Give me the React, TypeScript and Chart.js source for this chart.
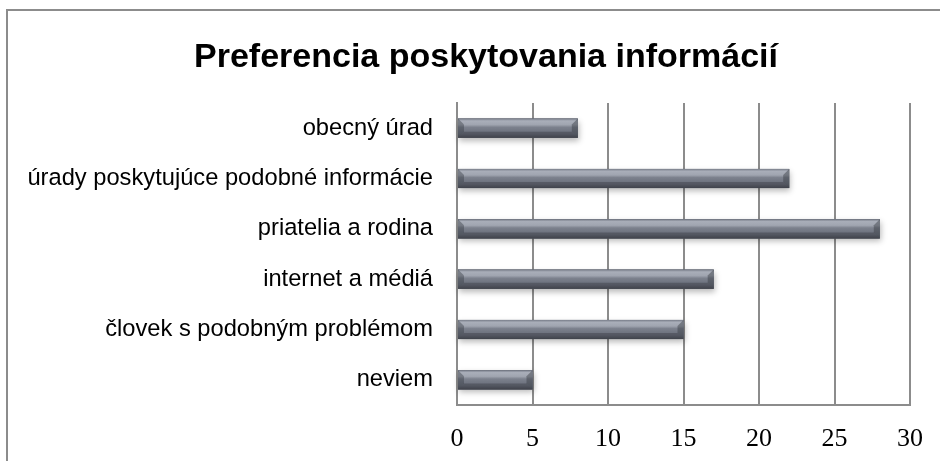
import React, { useEffect, useRef } from "react";
import { Chart, registerables } from "chart.js";

Chart.register(...registerables);

const categories = [
  "obecný úrad",
  "úrady poskytujúce podobné informácie",
  "priatelia a rodina",
  "internet a médiá",
  "človek s podobným problémom",
  "neviem",
];
const values = [8, 22, 28, 17, 15, 5];
const xTicks = [0, 5, 10, 15, 20, 25, 30];
const title = "Preferencia poskytovania informácií";

const framePlugin = {
  id: "frame",
  beforeDraw(chart: any) {
    const ctx = chart.ctx;
    ctx.save();
    ctx.fillStyle = "#ffffff";
    ctx.fillRect(0, 0, chart.width, chart.height);
    ctx.strokeStyle = "#8c8c8c";
    ctx.lineWidth = 2;
    ctx.beginPath();
    ctx.moveTo(7, chart.height + 2);
    ctx.lineTo(7, 10);
    ctx.lineTo(chart.width + 2, 10);
    ctx.stroke();
    ctx.restore();
  },
  afterDraw(chart: any) {
    const ctx = chart.ctx;
    ctx.save();
    ctx.fillStyle = "#000";
    ctx.font = "bold 34px 'Liberation Sans', Arial, sans-serif";
    ctx.textAlign = "center";
    ctx.textBaseline = "alphabetic";
    ctx.fillText(title, 486, 67);
    ctx.restore();
  },
};

const bevelPlugin = {
  id: "bevel",
  afterDatasetsDraw(chart: any) {
    const ctx = chart.ctx;
    const meta = chart.getDatasetMeta(0);
    meta.data.forEach((bar: any) => {
      const x0 = bar.base;
      const x1 = bar.x;
      const h = bar.height;
      const y0 = bar.y - h / 2;
      const y1 = bar.y + h / 2;
      const b = Math.min(6, (x1 - x0) / 3);
      ctx.save();
      ctx.shadowColor = "rgba(0,0,0,0.28)";
      ctx.shadowBlur = 6;
      ctx.shadowOffsetX = 1;
      ctx.shadowOffsetY = 3;
      ctx.fillStyle = "#5a5f6a";
      ctx.fillRect(x0, y0, x1 - x0, h);
      ctx.restore();
      ctx.save();
      const g = ctx.createLinearGradient(0, y0, 0, y1);
      g.addColorStop(0, "#767b87");
      g.addColorStop(0.12, "#a9aeb9");
      g.addColorStop(0.32, "#a0a5b0");
      g.addColorStop(0.45, "#7c818d");
      g.addColorStop(0.8, "#686d79");
      g.addColorStop(1, "#4c5059");
      ctx.fillStyle = g;
      ctx.fillRect(x0, y0, x1 - x0, h);
      ctx.fillStyle = "rgba(50,54,62,0.4)";
      ctx.beginPath();
      ctx.moveTo(x0, y0);
      ctx.lineTo(x0 + b, y0 + b);
      ctx.lineTo(x0 + b, y1 - b);
      ctx.lineTo(x0, y1);
      ctx.closePath();
      ctx.fill();
      ctx.fillStyle = "rgba(55,59,67,0.45)";
      ctx.beginPath();
      ctx.moveTo(x1, y0);
      ctx.lineTo(x1 - b, y0 + b);
      ctx.lineTo(x1 - b, y1 - b);
      ctx.lineTo(x1, y1);
      ctx.closePath();
      ctx.fill();
      ctx.fillStyle = "rgba(35,38,44,0.3)";
      ctx.beginPath();
      ctx.moveTo(x0, y1);
      ctx.lineTo(x1, y1);
      ctx.lineTo(x1 - b, y1 - b);
      ctx.lineTo(x0 + b, y1 - b);
      ctx.closePath();
      ctx.fill();
      ctx.restore();
    });
  },
};

export default function App() {
  const ref = useRef<HTMLCanvasElement | null>(null);
  useEffect(() => {
    document.body.style.margin = "0";
    document.body.style.overflow = "hidden";
    const canvas = ref.current!;
    const chart = new Chart(canvas, {
      type: "bar",
      data: {
        labels: categories,
        datasets: [
          {
            data: values,
            backgroundColor: "#6e7380",
            categoryPercentage: 1,
            barPercentage: 0.38,
          },
        ],
      },
      options: {
        indexAxis: "y",
        responsive: false,
        animation: false,
        layout: { padding: { top: 103, left: 0, right: 30, bottom: 0 } },
        plugins: {
          legend: { display: false },
          tooltip: { enabled: false },
          title: { display: false },
        },
        scales: {
          x: {
            min: 0,
            max: 30,
            afterBuildTicks(scale: any) {
              scale.ticks = xTicks.map((v) => ({ value: v }));
            },
            afterFit(scale: any) {
              scale.height = 56;
              scale.paddingLeft = 0;
              scale.paddingRight = 0;
            },
            grid: { color: "#8c8c8c", lineWidth: 2, drawTicks: false },
            border: { color: "#8c8c8c", width: 2 },
            ticks: {
              padding: 19,
              color: "#000",
              font: { family: "'Liberation Serif', 'Times New Roman', serif", size: 26 },
            },
          },
          y: {
            grid: { display: false, drawTicks: false },
            border: { color: "#8c8c8c", width: 2 },
            afterFit(scale: any) {
              scale.width = 457;
            },
            ticks: {
              padding: 24,
              color: "#000",
              font: { family: "'Liberation Sans', Arial, sans-serif", size: 23.7 },
            },
          },
        },
      },
      plugins: [framePlugin, bevelPlugin],
    });
    return () => chart.destroy();
  }, []);
  return (
    <div style={{ width: 940, height: 461 }}>
      <canvas ref={ref} width={940} height={461} style={{ display: "block" }} />
    </div>
  );
}
